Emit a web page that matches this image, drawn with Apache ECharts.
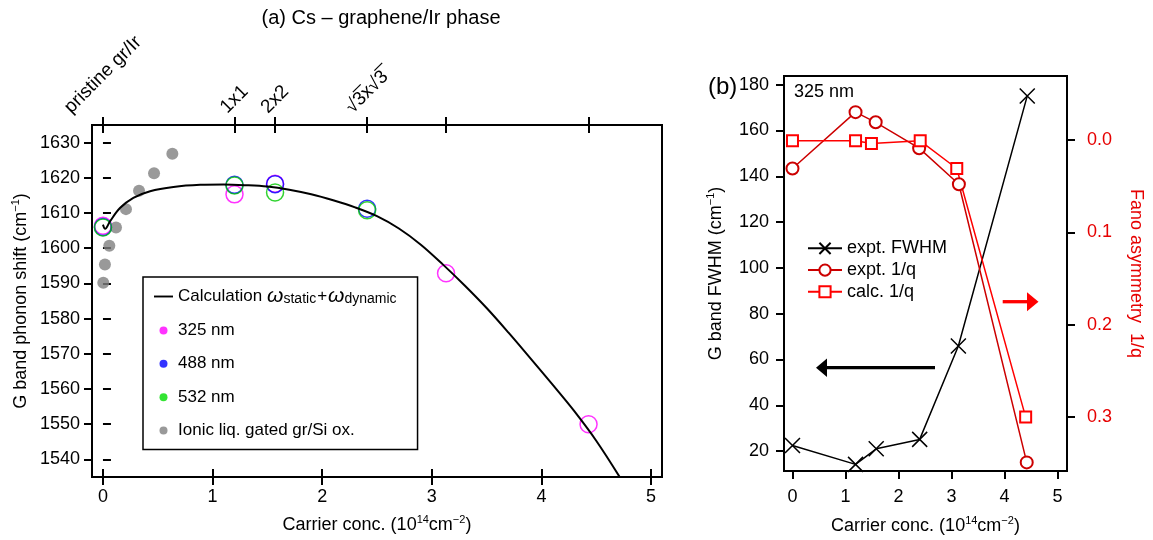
<!DOCTYPE html>
<html>
<head>
<meta charset="utf-8">
<script src="https://cdn.jsdelivr.net/npm/echarts@6/dist/echarts.min.js"></script>
<style>
  html, body { margin: 0; padding: 0; background: #fff; }
  #chart { width: 1153px; height: 540px; }
</style>
</head>
<body>
<div id="chart"></div>
<script>
// ---- panel (a) data ----
const calcX = [0, 0.02, 0.064, 0.155, 0.277, 0.43, 0.643, 0.887, 1.1, 1.3, 1.5, 1.7, 1.9, 2.1, 2.3, 2.5, 2.7, 2.9, 3.1, 3.3, 3.5, 3.7, 3.9, 4.1, 4.3, 4.5, 4.72]
const calcY = [1606.7, 1605.5, 1607.6, 1611.4, 1614.3, 1616.2, 1617.4, 1618.0, 1618.1, 1617.9, 1617.5, 1616.6, 1615.3, 1613.6, 1611.6, 1609.1, 1605.6, 1601.0, 1595.4, 1589.4, 1583.0, 1576.0, 1568.7, 1561.3, 1553.7, 1545.3, 1534.7]
const ionicX = [0.003, 0.018, 0.058, 0.119, 0.21, 0.329, 0.466, 0.633]
const ionicY = [1590.2, 1595.4, 1600.7, 1605.9, 1611.1, 1616.3, 1621.3, 1626.8]
const nm325X = [0, 1.2, 1.57, 3.13, 4.43]
const nm325Y = [1606.4, 1615.3, 1618.3, 1592.9, 1550.0]
const nm488X = [0, 1.2, 1.57, 2.41]
const nm488Y = [1606.0, 1618.0, 1618.2, 1611.2]
const nm532X = [0, 1.2, 1.57, 2.41]
const nm532Y = [1605.9, 1617.8, 1615.8, 1610.8]
const xTicksA = [0, 1, 2, 3, 4, 5]
const yTicksA = [1540, 1550, 1560, 1570, 1580, 1590, 1600, 1610, 1620, 1630]
const topTickValues = [0, 1.2, 1.57, 2.41, 3.13, 4.43]
const topTickLabels = ['pristine gr/Ir', '1x1', '2x2', '√3\u0305x√3\u0305', '', '']

// ---- panel (b) data ----
const fwhmX = [0, 1.19, 1.58, 2.4, 3.13, 4.43]
const fwhmY = [22.4, 14.2, 21.0, 25.1, 65.9, 175.1]
const exptQX = [0, 1.19, 1.57, 2.39, 3.14, 4.42]
const exptQY = [0.031, -0.030, -0.019, 0.009, 0.048, 0.349]
const calcQX = [0, 1.19, 1.49, 2.41, 3.10, 4.40]
const calcQY = [0.001, 0.001, 0.004, 0.001, 0.031, 0.300]
const xTicksB = [0, 1, 2, 3, 4, 5]
const yTicksB = [20, 40, 60, 80, 100, 120, 140, 160, 180]
const qTicks = [0, 0.1, 0.2, 0.3]

const calcName = 'Calculation ωstatic+ωdynamic'
const red = '#e60000'
const pairs = (xs, ys) => xs.map((x, i) => [x, ys[i]])

const chart = echarts.init(document.getElementById('chart'))

function ticks(vals, inside) {
    return { show: true, inside: inside, length: 8, customValues: vals, lineStyle: { color: '#000', width: 2 } }
}
const axisLine = { show: true, onZero: false, lineStyle: { color: '#000', width: 2 } }
const nameRich = {
    n: { fontSize: 18, lineHeight: 22, color: '#000' },
    p: { fontSize: 11, lineHeight: 11, verticalAlign: 'top', color: '#000' }
}
const carrierName = '{n|Carrier conc. (10}{p|14}{n|cm}{p|−2}{n|)}'
const plain = v => String(v)

const option = {
    animation: false,
    textStyle: { fontFamily: 'Liberation Sans' },
    title: {
        text: '(a) Cs – graphene/Ir phase',
        left: 376, top: 3, textAlign: 'center',
        textStyle: { fontSize: 20, fontWeight: 'normal', color: '#000', fontFamily: 'Liberation Sans' }
    },
    grid: [
        { left: 92, top: 125, width: 570, height: 352, show: true, borderColor: '#000', borderWidth: 2 },
        { left: 784, top: 76, width: 283, height: 396, show: true, borderColor: '#000', borderWidth: 2 }
    ],
    xAxis: [
        {
            type: 'value', gridIndex: 0, position: 'bottom', min: -0.1, max: 5.1,
            axisLine: axisLine, axisTick: ticks(xTicksA, false), splitLine: { show: false },
            axisLabel: { customValues: xTicksA, margin: 11, fontSize: 18, color: '#000', formatter: plain },
            name: carrierName, nameLocation: 'middle', nameGap: 37,
            nameTextStyle: { rich: nameRich }
        },
        {
            type: 'value', gridIndex: 0, position: 'bottom', min: -0.1, max: 5.1,
            axisLine: { show: false }, axisTick: ticks(xTicksA, true), splitLine: { show: false },
            axisLabel: { show: false }
        },
        {
            type: 'value', gridIndex: 0, position: 'top', min: -0.1, max: 5.1,
            axisLine: axisLine, axisTick: ticks(topTickValues, false), splitLine: { show: false },
            axisLabel: { show: false }
        },
        {
            type: 'value', gridIndex: 0, position: 'top', min: -0.1, max: 5.1,
            axisLine: { show: false }, axisTick: ticks(topTickValues, true), splitLine: { show: false },
            axisLabel: { show: false }
        },
        {
            type: 'value', gridIndex: 1, position: 'bottom', min: -0.16, max: 5.18,
            axisLine: axisLine, axisTick: ticks(xTicksB, false), splitLine: { show: false },
            axisLabel: { customValues: xTicksB, margin: 17, fontSize: 18, color: '#000', formatter: plain },
            name: carrierName, nameLocation: 'middle', nameGap: 44,
            nameTextStyle: { rich: nameRich }
        }
    ],
    yAxis: [
        {
            type: 'value', gridIndex: 0, position: 'left', min: 1535, max: 1635,
            axisLine: axisLine, axisTick: ticks(yTicksA, false), splitLine: { show: false },
            axisLabel: { customValues: yTicksA, margin: 12, fontSize: 18, color: '#000', formatter: plain },
            name: '{n|G band phonon shift (cm}{p|−1}{n|)}', nameLocation: 'middle', nameGap: 60, nameRotate: 90,
            nameTextStyle: { rich: nameRich }
        },
        {
            type: 'value', gridIndex: 0, position: 'left', min: 1535, max: 1635,
            axisLine: { show: false }, axisTick: ticks(yTicksA, true), splitLine: { show: false },
            axisLabel: { show: false }
        },
        {
            type: 'value', gridIndex: 1, position: 'left', min: 11.3, max: 183.8,
            axisLine: axisLine, axisTick: ticks(yTicksB, false), splitLine: { show: false },
            axisLabel: { customValues: yTicksB, margin: 15, fontSize: 18, color: '#000', formatter: plain },
            name: '{n|G band FWHM (cm}{p|−1}{n|)}', nameLocation: 'middle', nameGap: 57, nameRotate: 90,
            nameTextStyle: { rich: nameRich }
        },
        {
            type: 'value', gridIndex: 1, position: 'right', min: -0.0691, max: 0.3583, inverse: true,
            axisLine: axisLine, axisTick: ticks(qTicks, false), splitLine: { show: false },
            axisLabel: { customValues: qTicks, margin: 20, fontSize: 18, color: red, formatter: v => v.toFixed(1) },
            name: 'Fano asymmetry  1/q', nameLocation: 'middle', nameGap: 60, nameRotate: -90,
            nameTextStyle: { fontSize: 18, color: red }
        }
    ],
    legend: [
        {
            data: [
                { name: calcName, icon: 'path://M0,0L20,0L20,2L0,2Z', itemStyle: { color: '#000' } },
                { name: '325 nm', icon: 'circle', itemStyle: { color: '#ff00ff', borderWidth: 0 } },
                { name: '488 nm', icon: 'circle', itemStyle: { color: '#0000ff', borderWidth: 0 } },
                { name: '532 nm', icon: 'circle', itemStyle: { color: '#00dd00', borderWidth: 0 } },
                { name: 'Ionic liq. gated gr/Si ox.', icon: 'circle', itemStyle: { color: '#808080', borderWidth: 0 } }
            ],
            orient: 'vertical', left: 143, top: 277, padding: [9, 21, 9, 11],
            itemGap: 13.4, itemWidth: 19, itemHeight: 8,
            borderColor: '#000', borderWidth: 1.5, backgroundColor: '#fff',
            selectedMode: false,
            textStyle: {
                fontSize: 17, color: '#000', lineHeight: 20,
                rich: {
                    t: { fontSize: 17, color: '#000' },
                    w1: { fontSize: 21, fontStyle: 'italic', color: '#000', padding: [0, 0, 0, 5] },
                    w: { fontSize: 21, fontStyle: 'italic', color: '#000' },
                    s: { fontSize: 14, lineHeight: 14, verticalAlign: 'bottom', color: '#000' },
                    pl: { fontSize: 17, color: '#000', padding: [0, 1, 0, 1] }
                }
            },
            formatter: function (n) {
                if (n === calcName) return '{t|Calculation}{w1|ω}{s|static}{pl|+}{w|ω}{s|dynamic}'
                return n
            }
        },
        {
            data: ['expt. FWHM', 'expt. 1/q', 'calc. 1/q'],
            orient: 'vertical', left: 807, top: 237.5, padding: 0, itemGap: 0,
            itemWidth: 34, itemHeight: 14, selectedMode: false,
            textStyle: { fontSize: 18, lineHeight: 21.7, color: '#000' }
        }
    ],
    series: [
        {
            name: 'Ionic liq. gated gr/Si ox.', type: 'scatter', xAxisIndex: 0, yAxisIndex: 0,
            data: pairs(ionicX, ionicY), symbolSize: 12, itemStyle: { color: '#808080' }
        },
        {
            name: calcName, type: 'line', xAxisIndex: 0, yAxisIndex: 0,
            data: pairs(calcX, calcY), smooth: 0.35, symbol: 'none',
            lineStyle: { color: '#000', width: 2 }, itemStyle: { color: '#000' }
        },
        {
            name: '325 nm', type: 'scatter', xAxisIndex: 0, yAxisIndex: 0,
            data: pairs(nm325X, nm325Y), symbolSize: 17,
            itemStyle: { color: 'rgba(255,255,255,0)', borderColor: '#ff00ff', borderWidth: 1.5 }
        },
        {
            name: '488 nm', type: 'scatter', xAxisIndex: 0, yAxisIndex: 0,
            data: pairs(nm488X, nm488Y), symbolSize: 17,
            itemStyle: { color: 'rgba(255,255,255,0)', borderColor: '#0000ff', borderWidth: 1.5 }
        },
        {
            name: '532 nm', type: 'scatter', xAxisIndex: 0, yAxisIndex: 0,
            data: pairs(nm532X, nm532Y), symbolSize: 17,
            itemStyle: { color: 'rgba(255,255,255,0)', borderColor: '#00c800', borderWidth: 1.5 }
        },
        {
            name: 'expt. FWHM', type: 'line', xAxisIndex: 4, yAxisIndex: 2,
            data: pairs(fwhmX, fwhmY), symbol: 'path://M0,0L10,10M10,0L0,10', symbolSize: 15,
            lineStyle: { color: '#000', width: 1.5 },
            itemStyle: { color: '#000', borderColor: '#000', borderWidth: 1.5 }
        },
        {
            name: 'expt. 1/q', type: 'line', xAxisIndex: 4, yAxisIndex: 3,
            data: pairs(exptQX, exptQY), symbol: 'emptyCircle', symbolSize: 12,
            lineStyle: { color: '#cc0000', width: 1.5 },
            itemStyle: { color: '#cc0000', borderWidth: 1.5 }
        },
        {
            name: 'calc. 1/q', type: 'line', xAxisIndex: 4, yAxisIndex: 3,
            data: pairs(calcQX, calcQY), symbol: 'emptyRect', symbolSize: 11,
            lineStyle: { color: '#ff0000', width: 1.5 },
            itemStyle: { color: '#ff0000', borderWidth: 1.5 }
        }
    ]
}
chart.setOption(option)

// rotated phase labels above the top axis, centred on their ticks
const ctx = document.createElement('canvas').getContext('2d')
ctx.font = '19px "Liberation Sans"'
const graphics = []
topTickLabels.forEach((lab, i) => {
    if (!lab) return
    const px = chart.convertToPixel({ xAxisIndex: 2 }, topTickValues[i])
    const w = ctx.measureText(lab).width
    graphics.push({
        type: 'text', x: px, y: 117 - (w + 19) * 0.354, rotation: Math.PI / 4,
        style: { text: lab, fontSize: 19, fontFamily: 'Liberation Sans', fill: '#000', align: 'center', verticalAlign: 'middle' }
    })
})
graphics.push(
    { type: 'text', x: 708, y: 87, style: { text: '(b)', fontSize: 24, fontFamily: 'Liberation Sans', fill: '#000', verticalAlign: 'middle' } },
    { type: 'text', x: 794, y: 92, style: { text: '325 nm', fontSize: 18, fontFamily: 'Liberation Sans', fill: '#000', verticalAlign: 'middle' } },
    // arrows telling which axis each curve belongs to
    { type: 'line', shape: { x1: 935, y1: 367.7, x2: 825, y2: 367.7 }, style: { stroke: '#000', lineWidth: 3.3 } },
    { type: 'polygon', shape: { points: [[816, 367.7], [827, 358.5], [827, 376.9]] }, style: { fill: '#000' } },
    { type: 'line', shape: { x1: 1002.7, y1: 301.7, x2: 1029, y2: 301.7 }, style: { stroke: '#ff0000', lineWidth: 3.3 } },
    { type: 'polygon', shape: { points: [[1038.5, 301.7], [1027, 292.2], [1027, 311.2]] }, style: { fill: '#ff0000' } }
)
chart.setOption({ graphic: graphics })
</script>
</body>
</html>
